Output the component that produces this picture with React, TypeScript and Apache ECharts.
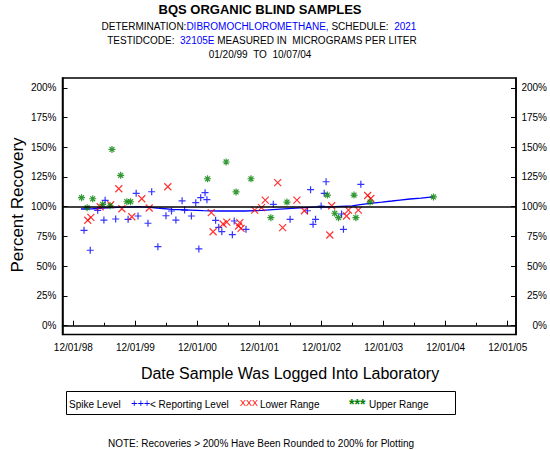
import React, { useEffect, useRef } from 'react';
import * as echarts from 'echarts';

const FONT = '"Liberation Sans", Arial, Helvetica, sans-serif';
const SP = '\u00a0';

// ---- axis ticks ----
const xTickLabels = ['12/01/98', '12/01/99', '12/01/00', '12/01/01', '12/01/02', '12/01/03', '12/01/04', '12/01/05'];
const xTickYears = [1998.917, 1999.917, 2000.917, 2001.917, 2002.917, 2003.917, 2004.917, 2005.917];
const xMinorYears = [1999.417, 2000.417, 2001.417, 2002.417, 2003.417, 2004.417, 2005.417];
const yTickValues = [0, 25, 50, 75, 100, 125, 150, 175, 200];

// ---- data (decimal year, percent recovery) ----
const reportingYears = [1999.09, 1999.19, 1999.31, 1999.41, 1999.43, 1999.60, 1999.80, 1999.93, 1999.96, 2000.12, 2000.18, 2000.28, 2000.41, 2000.50, 2000.57, 2000.67, 2000.71, 2000.82, 2000.89, 2000.94, 2000.97, 2001.04, 2001.07, 2001.21, 2001.26, 2001.31, 2001.48, 2001.51, 2001.70, 2002.14, 2002.41, 2002.69, 2002.74, 2002.78, 2002.82, 2002.91, 2002.96, 2002.99, 2003.24, 2003.27, 2003.55];
const reportingValues = [80.2, 63.4, 97.0, 88.8, 105.4, 89.7, 89.4, 111.3, 92.2, 86.1, 112.6, 66.4, 92.4, 96.4, 88.8, 105.0, 97.2, 92.2, 103.4, 64.5, 107.6, 111.8, 105.9, 88.6, 82.7, 79.0, 76.5, 88.0, 81.0, 102.0, 89.4, 96.6, 114.3, 85.2, 89.4, 100.6, 111.3, 121.0, 93.9, 81.0, 118.8];

const lowerYears = [1999.15, 1999.20, 1999.35, 1999.52, 1999.65, 1999.70, 1999.86, 2000.02, 2000.14, 2000.44, 2001.14, 2001.17, 2001.33, 2001.39, 2001.58, 2001.60, 2001.62, 2001.84, 2001.95, 2002.01, 2002.21, 2002.29, 2002.52, 2002.64, 2003.05, 2003.08, 2003.32, 2003.35, 2003.51, 2003.66, 2003.71];
const lowerValues = [88.6, 91.1, 100.0, 101.7, 115.1, 98.3, 91.6, 106.7, 98.9, 116.8, 95.0, 79.0, 85.5, 87.1, 83.8, 86.6, 81.8, 97.2, 99.2, 105.6, 120.2, 82.4, 105.6, 96.6, 76.2, 100.8, 92.2, 97.2, 97.2, 109.4, 106.9];

const upperYears = [1999.05, 1999.14, 1999.23, 1999.39, 1999.51, 1999.54, 1999.68, 1999.78, 1999.84, 2001.08, 2001.38, 2001.54, 2001.78, 2002.10, 2002.36, 2003.01, 2003.13, 2003.19, 2003.44, 2003.47, 2003.70, 2004.72];
const upperValues = [107.6, 99.2, 106.7, 102.0, 100.8, 148.2, 126.4, 104.2, 104.2, 123.5, 137.6, 112.4, 123.5, 90.8, 103.9, 109.8, 94.5, 90.8, 109.8, 90.8, 103.9, 108.2];

const trendYears = [1999.04, 1999.23, 1999.51, 1999.78, 1999.99, 2000.15, 2000.31, 2000.51, 2000.80, 2001.01, 2001.28, 2001.68, 2001.96, 2002.25, 2002.57, 2002.81, 2003.13, 2003.41, 2003.54, 2003.70, 2003.89, 2004.05, 2004.18, 2004.34, 2004.52, 2004.71];
const trendValues = [98.1, 98.3, 99.2, 99.6, 100.0, 99.5, 98.7, 97.8, 97.2, 96.8, 96.4, 96.4, 97.0, 98.0, 99.0, 99.6, 100.0, 100.8, 101.8, 102.9, 103.9, 104.8, 105.6, 106.5, 107.3, 108.2];

const spikeLevel = 100;

const X_MIN = 1998.743;
const X_MAX = 2006.05;
const Y_MIN = -7.4;
const Y_MAX = 208.2;

const PLUS = 'path://M5,0 L5,10 M0,5 L10,5';
const CROSS = 'path://M0,0 L10,10 M10,0 L0,10';
const STAR = 'path://M5,0 L5,10 M0,5 L10,5 M1.5,1.5 L8.5,8.5 M8.5,1.5 L1.5,8.5';

const zip = (xs: number[], ys: number[]) => xs.map((x, i) => [x, ys[i]]);

export default function App() {
  const ref = useRef<HTMLDivElement>(null);

  useEffect(() => {
    if (!ref.current) return;
    const chart = echarts.init(ref.current, undefined, { renderer: 'svg' });

    const yAxisBase = (position: 'left' | 'right') => ({
      type: 'value',
      position,
      min: Y_MIN,
      max: Y_MAX,
      axisLine: { show: true, lineStyle: { color: '#000', width: 1.5 } },
      axisTick: { show: true, inside: true, length: 5, customValues: yTickValues, lineStyle: { color: '#000', width: 1 } },
      axisLabel: {
        customValues: yTickValues,
        formatter: (v: number) => Math.round(v) + '%',
        fontFamily: FONT,
        fontSize: 10,
        color: '#000',
        margin: position === 'left' ? 6 : 31,
        align: 'right',
      },
      splitLine: { show: false },
    });

    const option: any = {
      animation: false,
      backgroundColor: '#fff',
      grid: {
        left: 62.5,
        right: 34,
        top: 78,
        bottom: 115.5,
        show: true,
        borderColor: '#000',
        borderWidth: 1.5,
      },
      xAxis: [
        {
          type: 'value',
          position: 'bottom',
          min: X_MIN,
          max: X_MAX,
          axisLine: { show: true, lineStyle: { color: '#000', width: 1.5 } },
          axisTick: { show: true, inside: true, length: 5, customValues: xTickYears, lineStyle: { color: '#000', width: 1 } },
          axisLabel: {
            customValues: xTickYears,
            formatter: (v: number) => {
              const i = xTickYears.findIndex((t) => Math.abs(t - v) < 0.01);
              return i >= 0 ? xTickLabels[i] : '';
            },
            fontFamily: FONT,
            fontSize: 10,
            color: '#000',
            margin: 8,
          },
          splitLine: { show: false },
        },
        {
          type: 'value',
          position: 'bottom',
          min: X_MIN,
          max: X_MAX,
          axisLine: { show: false },
          axisTick: { show: true, inside: true, length: 3, customValues: xMinorYears, lineStyle: { color: '#000', width: 1 } },
          axisLabel: { show: false },
          splitLine: { show: false },
        },
      ],
      yAxis: [yAxisBase('left'), yAxisBase('right')],
      series: [
        {
          type: 'line',
          data: zip(trendYears, trendValues),
          showSymbol: false,
          symbol: 'none',
          lineStyle: { color: '#0000ff', width: 1.3 },
          z: 2,
          markLine: {
            silent: true,
            symbol: 'none',
            label: { show: false },
            lineStyle: { color: '#000', width: 1.5, type: 'solid' },
            data: [{ yAxis: spikeLevel }],
          },
        },
        {
          type: 'scatter',
          data: zip(reportingYears, reportingValues),
          symbol: PLUS,
          symbolSize: 7,
          itemStyle: { color: '#0000ff', borderColor: '#0000ff', borderWidth: 1.2 },
          z: 3,
        },
        {
          type: 'scatter',
          data: zip(lowerYears, lowerValues),
          symbol: CROSS,
          symbolSize: 7,
          itemStyle: { color: '#ff0000', borderColor: '#ff0000', borderWidth: 1.2 },
          z: 3,
        },
        {
          type: 'scatter',
          data: zip(upperYears, upperValues),
          symbol: STAR,
          symbolSize: 7,
          itemStyle: { color: '#008000', borderColor: '#008000', borderWidth: 1.2 },
          z: 3,
        },
      ],
      graphic: [
        {
          type: 'text', x: 260, y: 9,
          style: { text: 'BQS ORGANIC BLIND SAMPLES', font: `bold 13px ${FONT}`, fill: '#000', textAlign: 'center', textVerticalAlign: 'middle' },
        },
        {
          type: 'text', x: 259, y: 26,
          style: {
            text: `{a|DETERMINATION:}{b|DIBROMOCHLOROMETHANE,}{a| SCHEDULE:${SP}${SP}}{b|2021}`,
            textAlign: 'center', textVerticalAlign: 'middle',
            font: `10px ${FONT}`,
            rich: {
              a: { fill: '#000', font: `10px ${FONT}` },
              b: { fill: '#0000ff', font: `10px ${FONT}` },
            },
          },
        },
        {
          type: 'text', x: 262, y: 40,
          style: {
            text: `{a|TESTIDCODE:${SP}${SP}}{b|32105E}{a| MEASURED IN${SP}${SP}MICROGRAMS PER LITER}`,
            textAlign: 'center', textVerticalAlign: 'middle',
            font: `10px ${FONT}`,
            rich: {
              a: { fill: '#000', font: `10px ${FONT}` },
              b: { fill: '#0000ff', font: `10px ${FONT}` },
            },
          },
        },
        {
          type: 'text', x: 260, y: 54,
          style: { text: `01/20/99${SP}${SP}TO${SP}${SP}10/07/04`, font: `10px ${FONT}`, fill: '#000', textAlign: 'center', textVerticalAlign: 'middle' },
        },
        {
          type: 'text', x: 17, y: 205, rotation: Math.PI / 2,
          style: { text: 'Percent Recovery', font: `17px ${FONT}`, fill: '#000', textAlign: 'center', textVerticalAlign: 'middle' },
        },
        {
          type: 'text', x: 290, y: 373,
          style: { text: 'Date Sample Was Logged Into Laboratory', font: `16px ${FONT}`, fill: '#000', textAlign: 'center', textVerticalAlign: 'middle' },
        },
        {
          type: 'rect', shape: { x: 66.5, y: 391.5, width: 389, height: 23 },
          style: { fill: 'none', stroke: '#000', lineWidth: 1 },
        },
        { type: 'text', x: 69, y: 404, style: { text: 'Spike Level', font: `10px ${FONT}`, fill: '#000', textVerticalAlign: 'middle' } },
        { type: 'text', x: 131, y: 403, style: { text: '+++', font: `11px ${FONT}`, fill: '#0000ff', textVerticalAlign: 'middle' } },
        { type: 'text', x: 150, y: 404, style: { text: '< Reporting Level', font: `10px ${FONT}`, fill: '#000', textVerticalAlign: 'middle' } },
        { type: 'text', x: 240, y: 403, style: { text: 'XXX', font: `9px ${FONT}`, fill: '#ff0000', textVerticalAlign: 'middle' } },
        { type: 'text', x: 260, y: 404, style: { text: 'Lower Range', font: `10px ${FONT}`, fill: '#000', textVerticalAlign: 'middle' } },
        { type: 'text', x: 349, y: 404, style: { text: '***', font: `bold 14px ${FONT}`, fill: '#008000', textVerticalAlign: 'middle' } },
        { type: 'text', x: 369, y: 404, style: { text: 'Upper Range', font: `10px ${FONT}`, fill: '#000', textVerticalAlign: 'middle' } },
        {
          type: 'text', x: 261, y: 443,
          style: { text: 'NOTE: Recoveries > 200% Have Been Rounded to 200% for Plotting', font: `10px ${FONT}`, fill: '#000', textAlign: 'center', textVerticalAlign: 'middle' },
        },
      ],
    };

    chart.setOption(option);
    return () => chart.dispose();
  }, []);

  return (
    <div
      ref={ref}
      style={{ position: 'fixed', left: 0, top: 0, width: 550, height: 450, background: '#fff' }}
    />
  );
}
